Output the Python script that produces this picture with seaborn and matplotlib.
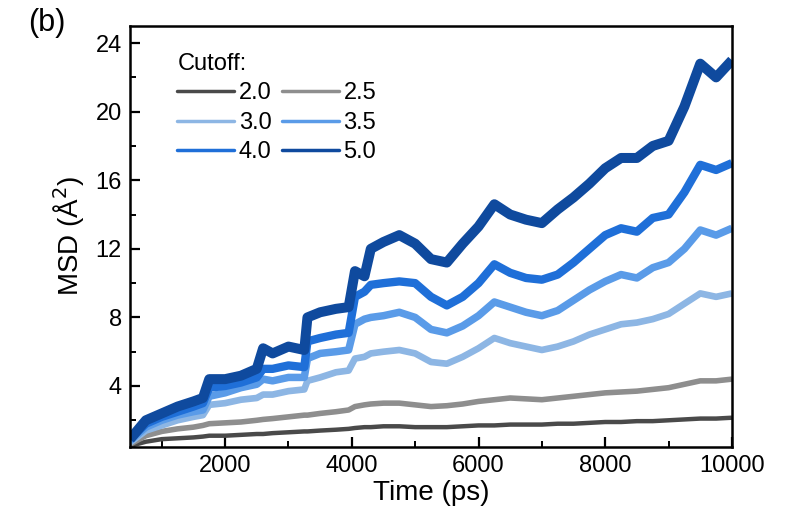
import numpy as np
import pandas as pd
import matplotlib
matplotlib.use("Agg")
import matplotlib.pyplot as plt
from matplotlib.lines import Line2D
from matplotlib.ticker import MultipleLocator
import seaborn as sns

time_ps = [500, 750, 1000, 1250, 1500, 1650, 1750, 2000, 2250, 2500, 2600, 2750,
           3000, 3250, 3300, 3500, 3750, 3950, 4050, 4200, 4300, 4500, 4750, 5000,
           5250, 5500, 5750, 6000, 6250, 6500, 6750, 7000, 7250, 7500, 7750, 8000,
           8250, 8500, 8750, 9000, 9250, 9500, 9750, 10000]

msd_2_0 = [0.5, 0.75, 0.9, 0.95, 1.0, 1.05, 1.1, 1.1, 1.15, 1.2, 1.2, 1.25,
           1.3, 1.35, 1.35, 1.4, 1.45, 1.5, 1.55, 1.6, 1.6, 1.65, 1.65, 1.6,
           1.6, 1.6, 1.65, 1.7, 1.7, 1.75, 1.75, 1.75, 1.8, 1.8, 1.85, 1.9,
           1.9, 1.95, 1.95, 2.0, 2.05, 2.1, 2.1, 2.15]
msd_2_5 = [0.6, 1.1, 1.35, 1.5, 1.6, 1.7, 1.8, 1.85, 1.9, 2.0, 2.05, 2.1,
           2.2, 2.3, 2.3, 2.4, 2.5, 2.6, 2.8, 2.9, 2.95, 3.0, 3.0, 2.9,
           2.8, 2.85, 2.95, 3.1, 3.2, 3.3, 3.25, 3.2, 3.3, 3.4, 3.5, 3.6,
           3.65, 3.7, 3.8, 3.9, 4.1, 4.3, 4.3, 4.4]
msd_3_0 = [0.7, 1.4, 1.7, 2.0, 2.2, 2.3, 2.9, 3.0, 3.2, 3.3, 3.5, 3.5,
           3.7, 3.8, 4.3, 4.5, 4.8, 4.9, 5.6, 5.7, 5.9, 6.0, 6.1, 5.9,
           5.4, 5.3, 5.7, 6.2, 6.8, 6.5, 6.3, 6.1, 6.3, 6.6, 7.0, 7.3,
           7.6, 7.7, 7.9, 8.2, 8.8, 9.4, 9.2, 9.4]
msd_3_5 = [0.8, 1.6, 2.0, 2.3, 2.5, 2.6, 3.4, 3.6, 3.9, 4.1, 4.4, 4.3,
           4.5, 4.5, 5.6, 5.9, 6.0, 6.1, 7.6, 7.9, 8.0, 8.1, 8.3, 8.0,
           7.3, 7.1, 7.5, 8.1, 8.9, 8.6, 8.3, 8.1, 8.4, 9.0, 9.6, 10.1,
           10.5, 10.3, 10.9, 11.2, 12.0, 13.1, 12.8, 13.2]
msd_4_0 = [0.9, 1.8, 2.2, 2.5, 2.8, 3.0, 3.9, 4.0, 4.2, 4.5, 5.0, 5.0,
           5.2, 5.1, 6.6, 6.8, 7.0, 7.1, 9.2, 9.5, 9.9, 10.0, 10.1, 10.0,
           9.2, 8.7, 9.2, 10.0, 11.1, 10.6, 10.3, 10.2, 10.5, 11.2, 12.0, 12.8,
           13.2, 13.0, 13.8, 14.0, 15.3, 16.9, 16.6, 17.0]
msd_5_0 = [0.9, 2.0, 2.4, 2.8, 3.1, 3.3, 4.4, 4.4, 4.6, 5.0, 6.2, 5.9,
           6.3, 6.1, 8.0, 8.3, 8.5, 8.6, 10.7, 10.4, 12.0, 12.4, 12.8, 12.3,
           11.4, 11.2, 12.3, 13.3, 14.6, 14.0, 13.7, 13.5, 14.3, 15.0, 15.8, 16.7,
           17.3, 17.3, 18.0, 18.3, 20.3, 22.8, 22.0, 23.0]

cutoffs = ["2.0", "2.5", "3.0", "3.5", "4.0", "5.0"]
series = [msd_2_0, msd_2_5, msd_3_0, msd_3_5, msd_4_0, msd_5_0]
colors = ["#4a4a4a", "#8e8e8e", "#8db6e4", "#5a9be8", "#1f6fd8", "#0f4a9e"]
widths = [3.2, 4.0, 4.8, 5.4, 6.0, 7.2]

df = pd.DataFrame({
    "Time": np.tile(time_ps, len(cutoffs)),
    "MSD": np.concatenate(series),
    "Cutoff": np.repeat(cutoffs, len(time_ps)),
})

sns.set_theme(style="ticks")
plt.rcParams["font.family"] = ["Liberation Sans", "DejaVu Sans"]
plt.rcParams["text.color"] = "black"
plt.rcParams["axes.labelcolor"] = "black"
plt.rcParams["xtick.color"] = "black"
plt.rcParams["ytick.color"] = "black"

fig = plt.figure(figsize=(7.93, 5.19), dpi=100)
ax = fig.add_axes([0.164, 0.139, 0.759, 0.811])

for c, col, lw in zip(cutoffs, colors, widths):
    sns.lineplot(data=df[df["Cutoff"] == c], x="Time", y="MSD", color=col,
                 linewidth=lw, ax=ax, legend=False, solid_joinstyle="round",
                 solid_capstyle="butt")

ax.set_xlim(500, 10000)
ax.set_ylim(0.45, 25)
ax.xaxis.set_major_locator(MultipleLocator(2000))
ax.xaxis.set_minor_locator(MultipleLocator(1000))
ax.yaxis.set_major_locator(MultipleLocator(4))
ax.yaxis.set_minor_locator(MultipleLocator(2))
ax.set_yticks([4, 8, 12, 16, 20, 24])
ax.tick_params(which="major", direction="in", length=7, width=1.6,
               labelsize=17, pad=6, top=False, right=False,
               colors="black", labelcolor="black")
ax.tick_params(which="minor", direction="in", length=4, width=1.4,
               top=False, right=False, colors="black")
for sp in ax.spines.values():
    sp.set_linewidth(1.8)
    sp.set_color("black")

ax.set_xlabel("Time (ps)", fontsize=20, labelpad=2, color="black")
ax.set_ylabel("MSD (Å$^2$)", fontsize=20, labelpad=6, color="black")

order = [0, 2, 4, 1, 3, 5]
handles = [Line2D([0], [0], color=colors[i], lw=2.5) for i in order]
labels = [cutoffs[i] for i in order]
leg = ax.legend(handles, labels, title="Cutoff:", ncol=2, loc="upper left",
                bbox_to_anchor=(0.055, 0.97), frameon=False, fontsize=17,
                title_fontsize=17, handlelength=2.4, handletextpad=0.2,
                columnspacing=0.45, labelspacing=0.32, borderaxespad=0.2)
leg._legend_box.align = "left"
for t in leg.get_texts():
    t.set_color("black")
leg.get_title().set_color("black")

fig.text(0.035, 0.955, "(b)", fontsize=22, ha="left", va="center", color="black")

fig.savefig("out.png", dpi=100)
